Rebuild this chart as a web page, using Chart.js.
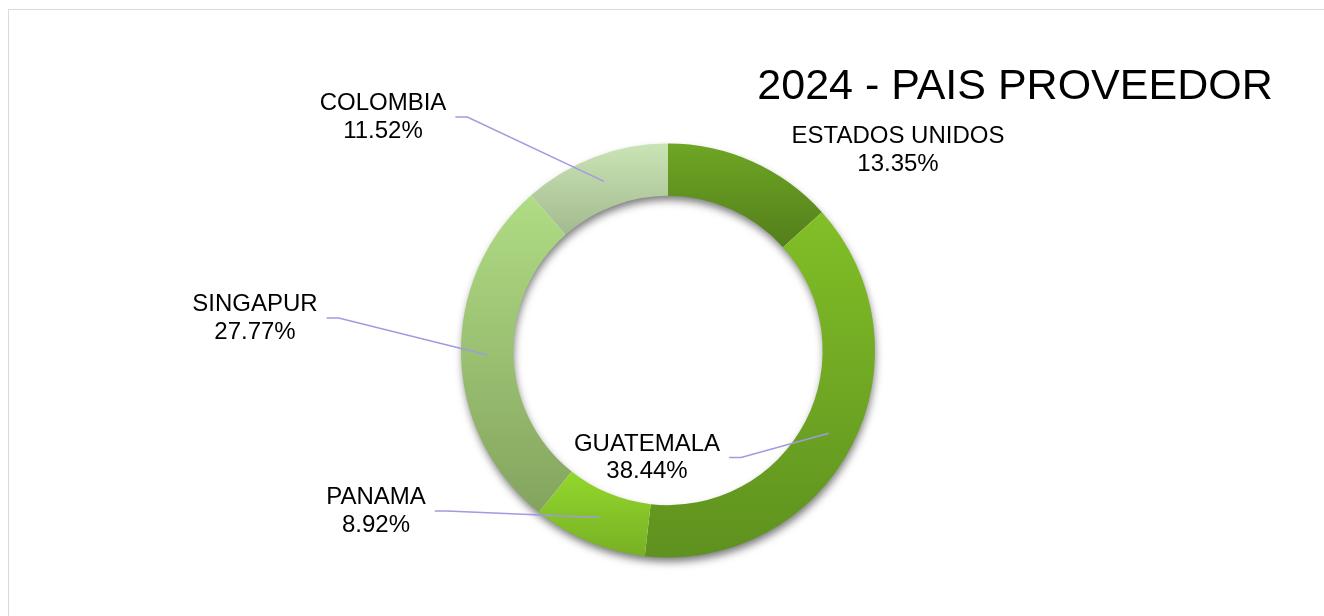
<!DOCTYPE html>
<html><head><meta charset="utf-8">
<script src="https://cdn.jsdelivr.net/npm/chart.js@4.4.1/dist/chart.umd.min.js"></script>
<style>
html,body{margin:0;padding:0;background:#fff;overflow:hidden;width:1324px;height:616px;}
#frame{position:absolute;left:8px;top:9px;width:1400px;height:700px;border-top:1px solid #d9d9e6;border-left:1px solid #d9d9e6;box-sizing:border-box;}
canvas{position:absolute;left:0;top:0;}
</style></head><body>
<div id="frame"></div>
<canvas id="c" width="1324" height="616"></canvas>
<script>
// ---- data ----
const chartTitle = '2024 - PAIS PROVEEDOR';
const categories = ['ESTADOS UNIDOS', 'GUATEMALA', 'PANAMA', 'SINGAPUR', 'COLOMBIA'];
const shares = [13.35, 38.44, 8.92, 27.77, 11.52];

// ---- styles / layout ----
const gradTop    = ['#6ea624', '#82bf27', '#93d82c', '#b0dc84', '#cbe4b5'];
const gradBottom = ['#547e1b', '#5e911f', '#77b024', '#84a45e', '#a2ba8f'];
const CUTOUT = 0.747;
// label block centre offsets from doughnut centre, and whether a leader line is drawn
const labelDX = [230, -21, -292, -413, -285];
const labelDY = [-200, 107.5, 161, -32, -233];
const labelLeader = [false, true, true, true, true];
const LABEL_FONT = '24px "Liberation Sans", Arial, sans-serif';
const LINE_H = 27.5;
const LEADER_COLOR = '#9f9be0';

function ringGeom(chart) {
  const a = chart.chartArea;
  const cx = (a.left + a.right) / 2, cy = (a.top + a.bottom) / 2;
  const R = Math.min(a.right - a.left, a.bottom - a.top) / 2;
  return {cx, cy, R, r: R * CUTOUT};
}

function segGradient(c) {
  const chart = c.chart;
  const i = c.dataIndex;
  if (!chart.chartArea || i === undefined) return gradTop[i || 0];
  const g = ringGeom(chart);
  const total = shares.reduce((s, v) => s + v, 0);
  let cum = 0;
  for (let k = 0; k < i; k++) cum += shares[k];
  const a0 = -Math.PI / 2 + 2 * Math.PI * cum / total;
  const a1 = a0 + 2 * Math.PI * shares[i] / total;
  let minY = Infinity, maxY = -Infinity;
  for (let s = 0; s <= 120; s++) {
    const ang = a0 + (a1 - a0) * s / 120;
    for (const rad of [g.R, g.r]) {
      const y = g.cy + rad * Math.sin(ang);
      minY = Math.min(minY, y); maxY = Math.max(maxY, y);
    }
  }
  const grad = chart.ctx.createLinearGradient(0, minY, 0, maxY);
  grad.addColorStop(0, gradTop[i]);
  grad.addColorStop(1, gradBottom[i]);
  return grad;
}

const shadowPlugin = {
  id: 'ringShadow',
  beforeDatasetsDraw(chart) {
    const el = chart.getDatasetMeta(0).data[0];
    if (!el) return;
    const ctx = chart.ctx;
    ctx.save();
    ctx.shadowColor = 'rgba(0,0,0,0.55)';
    ctx.shadowBlur = 9;
    ctx.shadowOffsetX = 1;
    ctx.shadowOffsetY = 5;
    ctx.fillStyle = '#ffffff';
    ctx.beginPath();
    ctx.arc(el.x, el.y, el.outerRadius - 1, 0, Math.PI * 2);
    ctx.moveTo(el.x + el.innerRadius + 1, el.y);
    ctx.arc(el.x, el.y, el.innerRadius + 1, 0, Math.PI * 2, true);
    ctx.fill('evenodd');
    ctx.restore();
  }
};

const labelPlugin = {
  id: 'outLabels',
  afterDatasetsDraw(chart) {
    const ctx = chart.ctx;
    const meta = chart.getDatasetMeta(0);
    ctx.save();
    ctx.font = LABEL_FONT;
    ctx.fillStyle = '#000000';
    ctx.textAlign = 'center';
    ctx.textBaseline = 'middle';
    meta.data.forEach((el, i) => {
      const lines = [categories[i], shares[i].toFixed(2) + '%'];
      const bx = el.x + labelDX[i], by = el.y + labelDY[i];
      const w = Math.max(...lines.map(t => ctx.measureText(t).width));
      if (labelLeader[i]) {
        const mid = (el.startAngle + el.endAngle) / 2;
        const rr = (el.innerRadius + el.outerRadius) / 2;
        const ex = el.x + rr * Math.cos(mid), ey = el.y + rr * Math.sin(mid);
        const sx = bx + w / 2 + 9, sy = by - 0.5;
        ctx.save();
        ctx.strokeStyle = LEADER_COLOR;
        ctx.lineWidth = 1.5;
        ctx.beginPath();
        ctx.moveTo(sx, sy);
        ctx.lineTo(sx + 12, sy);
        ctx.lineTo(ex, ey);
        ctx.stroke();
        ctx.restore();
      }
      lines.forEach((t, k) => {
        ctx.fillText(t, bx, by + (k - 0.5) * LINE_H);
      });
    });
    // title
    ctx.font = '43px "Liberation Sans", Arial, sans-serif';
    ctx.textAlign = 'center';
    ctx.textBaseline = 'alphabetic';
    ctx.fillText(chartTitle, 1015, 98.5);
    ctx.restore();
  }
};

new Chart(document.getElementById('c'), {
  type: 'doughnut',
  data: {
    labels: categories,
    datasets: [{
      data: shares,
      backgroundColor: segGradient,
      borderWidth: 0,
      hoverOffset: 0
    }]
  },
  options: {
    responsive: false,
    animation: false,
    events: [],
    cutout: (CUTOUT * 100) + '%',
    layout: { padding: { left: 461, right: 449, top: 143.5, bottom: 58.5 } },
    plugins: { legend: { display: false }, tooltip: { enabled: false }, title: { display: false } }
  },
  plugins: [shadowPlugin, labelPlugin]
});
</script>
</body></html>
